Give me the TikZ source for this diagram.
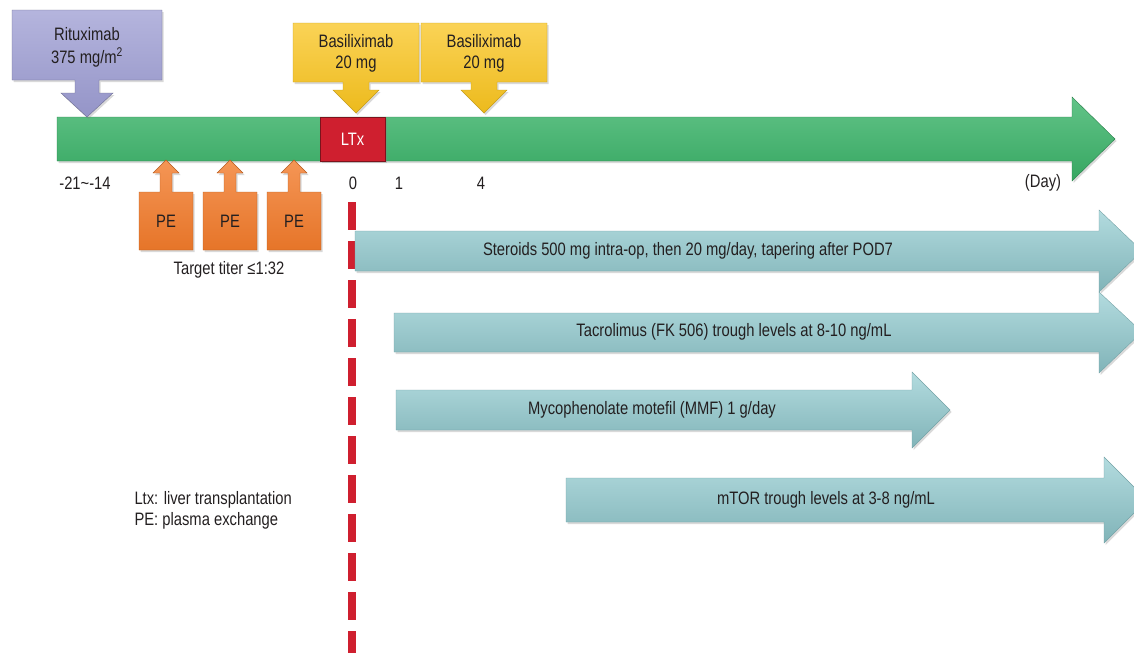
\documentclass[tikz,border=0pt]{standalone}
\usepackage{fontspec}
\setmainfont[FakeStretch=0.82]{Liberation Sans}
\usetikzlibrary{shadows}

\definecolor{ink}{HTML}{231F20}
\definecolor{bargreen}{HTML}{3BB56A}
\definecolor{ltxred}{HTML}{CF1F2F}
\definecolor{ritlav}{HTML}{9C9CD2}
\definecolor{basyel}{HTML}{F9C41E}
\definecolor{peorange}{HTML}{F27B2B}
\definecolor{drugteal}{HTML}{92CCD1}

\begin{document}
\begin{tikzpicture}[x=1pt,y=1pt,
   every node/.style={font=\fontsize{18}{21}\selectfont,text=ink},
   shade/.style={drop shadow={opacity=.3,shadow xshift=1.5pt,shadow yshift=-2pt}},
   bar/.style={top color=bargreen!80!white,bottom color=bargreen!92!black,draw=bargreen!70!black,shade},
   ritbox/.style={top color=ritlav!75!white,bottom color=ritlav!95!black,draw=ritlav!70!black,shade},
   basbox/.style={top color=basyel!75!white,bottom color=basyel!95!black,draw=basyel!80!black,shade},
   pebox/.style={top color=peorange!80!white,bottom color=peorange!95!black,draw=peorange!75!black,shade},
   drug/.style={top color=drugteal!70!white,bottom color=drugteal!88!black,draw=drugteal!80!black,shade},
   ltxbox/.style={fill=ltxred,draw=ltxred!60!black,minimum width=65pt,minimum height=44pt,
      inner sep=0pt,text=white,shade},
   cut/.style={draw=ltxred,line width=8pt,dash pattern=on 28pt off 11pt}]

\useasboundingbox (0,0) rectangle (1134,-653);

% timeline
\draw[bar] (57,-117) -- (1072,-117) -- (1072,-97) -- (1115,-139) -- (1072,-181)
   -- (1072,-161) -- (57,-161) -- cycle;
\node[ltxbox] (ltx) at (352.5,-139) {LTx};

\node (dm21) at (85,-183) {-21\textasciitilde{}-14};
\node (d0) at (353,-183) {0};
\node (d1) at (399,-183) {1};
\node (d4) at (481,-183) {4};
\node (day) at (1043,-183) {(Day)};

% induction
\draw[ritbox] (12,-10) -- (162,-10) -- (162,-80) -- (99,-80) -- (99,-93) -- (113,-93) -- (87,-117)
   -- (61,-93) -- (75,-93) -- (75,-80) -- (12,-80) -- cycle;
\node[align=center] (ritux) at (87,-47)
   {Rituximab\\[2pt]375 mg/m\textsuperscript{2}};

\foreach \x/\i in {356/1,484/2}{
  \draw[basbox] (\x-63,-23) -- (\x+63,-23) -- (\x+63,-82) -- (\x+13,-82) -- (\x+13,-90)
     -- (\x+23,-90) -- (\x,-113) -- (\x-23,-90) -- (\x-13,-90) -- (\x-13,-82) -- (\x-63,-82) -- cycle;
  \node[align=center] (basil\i) at (\x,-53) {Basiliximab\\20 mg};
}

\foreach \x/\i in {166/1,230/2,294/3}{
  \draw[pebox] (\x-27,-250) -- (\x-27,-192) -- (\x-6,-192) -- (\x-6,-173) -- (\x-13,-173)
     -- (\x,-160) -- (\x+13,-173) -- (\x+6,-173) -- (\x+6,-192) -- (\x+27,-192) -- (\x+27,-250) -- cycle;
  \node (pe\i) at (\x,-221) {PE};
}
\node (titer) at (229,-270) {Target titer \char"2264 1:32};

% day 0
\coordinate (cuttop) at (352,-202);
\coordinate (cutbot) at (352,-653);
\draw[cut] (cuttop) -- (cutbot);

% maintenance
\foreach \xl/\yt/\ym/\yb/\xh/\hu/\hd/\tip/\tx/\i/\txt in {
   355/-231/-251/-271/1099/-210/-292/1142/688/ster/{Steroids 500 mg intra-op, then 20 mg/day, tapering after POD7},
   394/-313/-332/-352/1099/-292/-373/1142/734/tac/{Tacrolimus (FK 506) trough levels at 8-10 ng/mL},
   396/-390/-410/-430/912/-372/-448/950/652/mmf/{Mycophenolate motefil (MMF) 1 g/day},
   566/-478/-500/-522/1104/-457/-543/1147/826/mtor/{mTOR trough levels at 3-8 ng/mL}}{
  \draw[drug] (\xl,\yt) -- (\xh,\yt) -- (\xh,\hu) -- (\tip,\ym) -- (\xh,\hd)
     -- (\xh,\yb) -- (\xl,\yb) -- cycle;
  \node (\i) at (\tx,\ym) {\txt};
}

\node[align=left,anchor=north west] (legend) at (131,-488)
   {Ltx: liver transplantation\\PE: plasma exchange};

\end{tikzpicture}
\end{document}
